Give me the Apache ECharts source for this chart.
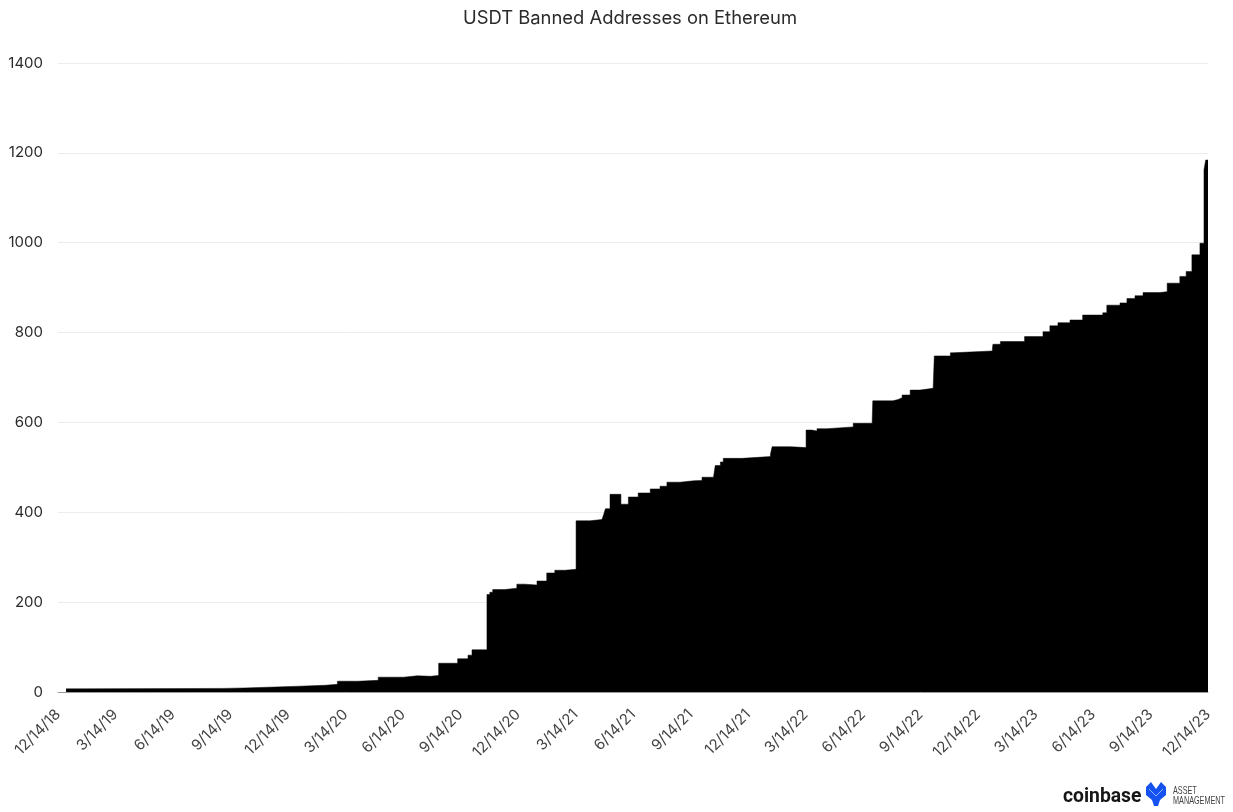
<!DOCTYPE html>
<html><head><meta charset="utf-8">
<style>html,body{margin:0;padding:0;background:#fff}#c{width:1233px;height:812px}</style>
<script src="https://cdn.jsdelivr.net/npm/echarts@6/dist/echarts.min.js"></script>
</head><body><div id="c"></div>
<script>
const chartTitle = 'USDT Banned Addresses on Ethereum';
const tickLabels = ['12/14/18','3/14/19','6/14/19','9/14/19','12/14/19','3/14/20','6/14/20','9/14/20','12/14/20','3/14/21','6/14/21','9/14/21','12/14/21','3/14/22','6/14/22','9/14/22','12/14/22','3/14/23','6/14/23','9/14/23','12/14/23'];
// position in quarters since 12/14/18
const stepQuarter = [0.14,0.43,2.87,3.25,3.51,4.21,4.65,4.86,5.22,5.57,6.01,6.25,6.48,6.62,6.95,7.13,7.2,7.46,7.51,7.56,7.77,7.98,8.12,8.33,8.5,8.64,8.82,9.01,9.25,9.46,9.49,9.52,9.6,9.79,9.92,10.09,10.3,10.47,10.59,10.82,11.05,11.2,11.4,11.43,11.52,11.57,11.9,12.39,12.42,12.74,13.01,13.11,13.2,13.37,13.83,14.16,14.17,14.52,14.61,14.68,14.82,14.99,15.22,15.24,15.52,15.57,16.25,16.26,16.39,16.81,17.13,17.25,17.39,17.6,17.82,18.17,18.24,18.47,18.59,18.73,18.87,19.16,19.29,19.51,19.62,19.72,19.86,19.93,19.96,20];
const stepValue = [7,8,9,10,13,15,17,24,26,33,36,35,37,64,74,82,94,217,222,228,231,240,238,247,265,271,273,381,384,386,395,408,440,418,434,443,452,458,467,470,471,478,480,504,512,520,524,529,546,544,583,581,586,590,598,604,648,651,655,661,672,676,678,748,755,759,764,774,780,791,802,815,822,828,839,844,861,866,876,882,889,891,910,925,936,973,999,1162,1184,1184];
const yTicks = [0,200,400,600,800,1000,1200,1400];
const logoWord = 'coinbase';
const logoLines = ['ASSET','MANAGEMENT'];
const lastTick = tickLabels.length - 1;

const chart = echarts.init(document.getElementById('c'), null, {renderer:'canvas'});
chart.setOption({
  animation:false,
  backgroundColor:'#ffffff',
  title:{text:chartTitle,left:625,top:4,textAlign:'center',textStyle:{fontFamily:'Inter',fontSize:18.4,fontWeight:400,color:'#2b2b2b'}},
  grid:{left:58,right:25,top:63,bottom:120,containLabel:false},
  xAxis:{type:'value',min:0,max:lastTick,interval:1,
    axisLine:{show:true,onZero:true,lineStyle:{color:'#9a9a9a',width:1}},
    axisTick:{show:false},splitLine:{show:false},
    axisLabel:{rotate:45,margin:20,color:'#444',fontFamily:'Inter',fontSize:15,hideOverlap:false,showMinLabel:true,showMaxLabel:true,
      formatter:v=>tickLabels[Math.round(v)]}},
  yAxis:{type:'value',min:0,max:1400,interval:200,
    axisLine:{show:false},axisTick:{show:false},
    splitLine:{lineStyle:{color:'#ececec',width:1}},
    axisLabel:{margin:15,color:'#2b2b2b',fontFamily:'Inter',fontSize:15,
      formatter:v=>yTicks.includes(v)?String(v):''}},
  series:[{type:'line',step:'end',symbol:'none',silent:true,
    data:stepQuarter.map((q,i)=>[q,stepValue[i]]),
    lineStyle:{color:'#000',width:0.5},areaStyle:{color:'#000',opacity:1}}],
  graphic:[
    {type:'text',x:1063,y:786,scaleX:0.92,style:{text:logoWord,fontFamily:'Roboto',fontSize:21,fontWeight:700,fill:'#161616'}},
    {type:'polygon',shape:{points:[[1146,787],[1151,782],[1156,789],[1161,782],[1166,787],[1166,795],[1160,800],[1158,806],[1154,806],[1152,800],[1146,795]]},style:{fill:'#1652f0'}},
    {type:'polyline',shape:{points:[[1149,789],[1156,796],[1163,789]]},style:{stroke:'#8fb0ff',lineWidth:1,fill:null}},
    {type:'text',x:1173,y:785,scaleX:0.66,style:{text:logoLines[0],fontFamily:'Liberation Sans',fontSize:11,fill:'#444'}},
    {type:'text',x:1173,y:795,scaleX:0.66,style:{text:logoLines[1],fontFamily:'Liberation Sans',fontSize:11,fill:'#444'}}
  ]
});
</script></body></html>
